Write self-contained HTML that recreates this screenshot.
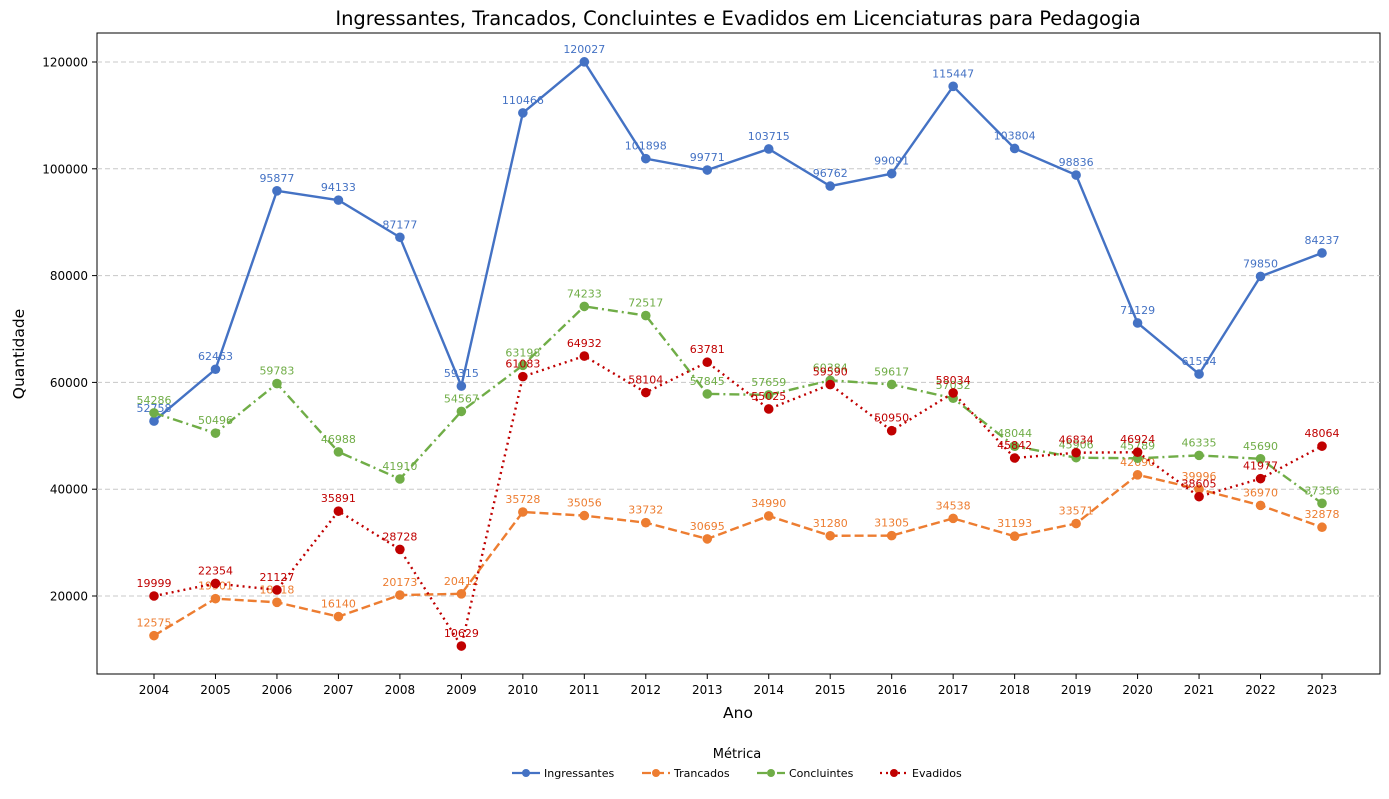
<!DOCTYPE html>
<html><head><meta charset="utf-8"><style>
body{margin:0;background:#fff;font-family:"Liberation Sans","DejaVu Sans",sans-serif}
svg text{font-family:"DejaVu Sans","Liberation Sans",sans-serif}
</style></head><body>
<svg id="c" width="1389" height="794" xmlns="http://www.w3.org/2000/svg">
<text x="738" y="25" text-anchor="middle" font-size="19.5">Ingressantes, Trancados, Concluintes e Evadidos em Licenciaturas para Pedagogia</text>
<rect x="97" y="33" width="1283" height="641" fill="none" stroke="#000" stroke-width="1"/>
<text x="738" y="718" text-anchor="middle" font-size="15.5">Ano</text>
<text x="24" y="354" text-anchor="middle" font-size="15.5" transform="rotate(-90 24 354)">Quantidade</text>
<g id="grid"></g><g id="axes"></g><g id="series"></g><g id="legend"></g>
</svg>
<script>
const years=[2004,2005,2006,2007,2008,2009,2010,2011,2012,2013,2014,2015,2016,2017,2018,2019,2020,2021,2022,2023];
const yTicks=[20000,40000,60000,80000,100000,120000];
const ingressantes=[52758,62463,95877,94133,87177,59315,110466,120027,101898,99771,103715,96762,99091,115447,103804,98836,71129,61554,79850,84237];
const trancados=[12575,19501,18818,16140,20173,20412,35728,35056,33732,30695,34990,31280,31305,34538,31193,33571,42690,39996,36970,32878];
const concluintes=[54286,50496,59783,46988,41910,54567,63198,74233,72517,57845,57659,60384,59617,57032,48044,45906,45789,46335,45690,37356];
const evadidos=[19999,22354,21127,35891,28728,10629,61083,64932,58104,63781,55025,59590,50950,58034,45842,46834,46924,38605,41977,48064];
const NS="http://www.w3.org/2000/svg";
const X=i=>154+i*(1322-154)/19;
const Y=v=>596-(v-20000)*(596-62)/100000;
function mk(t,a,p){const e=document.createElementNS(NS,t);for(const k in a)e.setAttribute(k,a[k]);p.appendChild(e);return e;}
const grid=document.getElementById('grid'),axes=document.getElementById('axes'),ser=document.getElementById('series'),leg=document.getElementById('legend');
yTicks.forEach(v=>{
 const l=mk('line',{x1:97,x2:1380,y1:Y(v),y2:Y(v),stroke:'#c8c8c8','stroke-dasharray':'5,3'},grid);
 
 
 mk('line',{x1:92,x2:97,y1:Y(v),y2:Y(v),stroke:'#000'},axes);
 const t=mk('text',{x:88,y:Y(v)+4.5,'text-anchor':'end','font-size':12},axes);t.textContent=v;
 
 
});
years.forEach((yr,i)=>{
 mk('line',{x1:X(i),x2:X(i),y1:674,y2:679,stroke:'#000'},axes);
 const t=mk('text',{x:X(i),y:694,'text-anchor':'middle','font-size':12},axes);t.textContent=yr;
 
 
});
const S=[
 {n:'Ingressantes',d:ingressantes,c:'#4472C4',dash:'',lc:'#4472C4'},
 {n:'Trancados',d:trancados,c:'#ED7D31',dash:'9,4',lc:'#ED7D31'},
 {n:'Concluintes',d:concluintes,c:'#70AD47',dash:'10,4,2,4',lc:'#70AD47'},
 {n:'Evadidos',d:evadidos,c:'#C00000',dash:'2,4',lc:'#C00000'}];
S.forEach(s=>{
 const g=mk('g',{},ser);
 
 
 const p=mk('polyline',{points:s.d.map((v,i)=>X(i)+','+Y(v)).join(' '),fill:'none',stroke:s.c,'stroke-width':2.4,'stroke-dasharray':s.dash},g);
 
 
 s.d.forEach((v,i)=>{
  const c=mk('circle',{cx:X(i),cy:Y(v),r:4.8,fill:s.c},g);
  
  
  const t=mk('text',{x:X(i),y:Y(v)-9,'text-anchor':'middle','font-size':11,fill:s.lc},g);t.textContent=v;
  
  
 });
});
const lt=mk('text',{x:737,y:758,'text-anchor':'middle','font-size':13},leg);lt.textContent='Métrica';


const lx=[512,642,757,880];
S.forEach((s,k)=>{
 const g=mk('g',{},leg);
 
 
 mk('line',{x1:lx[k],x2:lx[k]+28,y1:773,y2:773,stroke:s.c,'stroke-width':2.3,'stroke-dasharray':s.dash},g);
 mk('circle',{cx:lx[k]+14,cy:773,r:4,fill:s.c},g);
 const t=mk('text',{x:lx[k]+32,y:777,'font-size':11},g);t.textContent=s.n;
});
</script>
</body></html>
